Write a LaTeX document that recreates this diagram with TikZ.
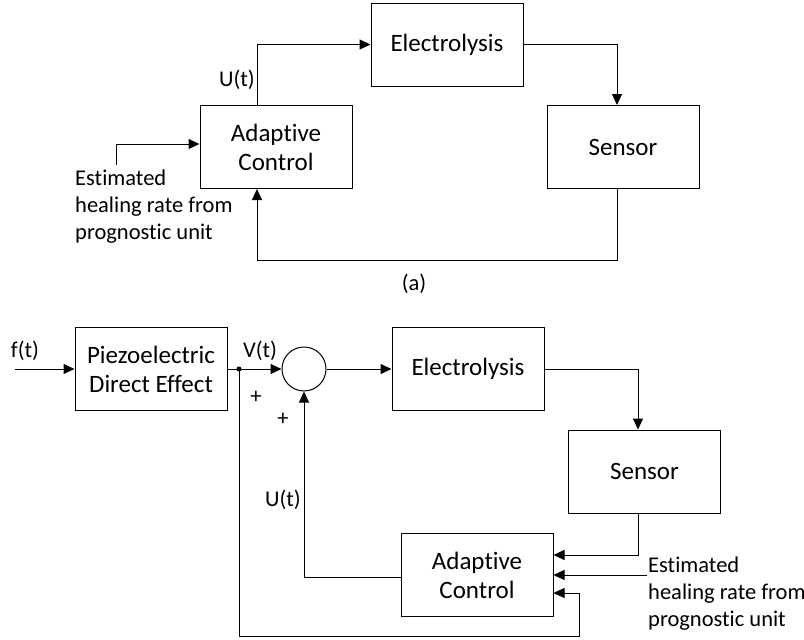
\documentclass[tikz,border=0pt]{standalone}
\usepackage{fontspec}
\setmainfont[Ligatures=NoCommon]{Carlito}
\usetikzlibrary{arrows.meta,calc}
\begin{document}
\begin{tikzpicture}[x=1pt,y=-1pt,
  blk/.style={draw, line width=1pt, minimum width=152pt, minimum height=83pt, inner sep=0pt, align=center, font=\fontsize{25}{29}\selectfont},
  lbl/.style={inner sep=0pt, font=\fontsize{22.5}{27}\selectfont},
  arr/.style={line width=1pt, -{Triangle[length=11pt,width=10pt]}},
  ln/.style={line width=1pt}]
\useasboundingbox (0,0) rectangle (804,640);
% ---- (a) ----
\node[blk] (E1) at (447,44.5) {Electrolysis};
\node[blk] (A1) at (276,147) {Adaptive\\Control};
\node[blk] (S1) at (623,147) {Sensor};
\draw[arr] ([xshift=-19pt]A1.north) |- (E1.west);
\node[lbl, anchor=east] (U1) at (255,80) {U(t)};
\draw[arr] (E1.east) -| ([xshift=-6pt]S1.north);
\draw[arr] ([xshift=-6pt]S1.south) -- ++(0,71) -| ([xshift=-19pt]A1.south);
\coordinate (est1) at (116,165);
\draw[arr] (est1) |- ([yshift=3pt]A1.west);
\node[lbl, anchor=north west, align=left] (T1) at (75,170) {Estimated\\healing rate from\\prognostic unit};
\node[lbl] (a) at (414,284) {(a)};
% ---- (b) ----
\node[blk] (P) at (151,369) {Piezoelectric\\Direct Effect};
\node[blk] (E2) at (468,369) {Electrolysis};
\node[blk] (S2) at (644.5,471.5) {Sensor};
\node[blk] (A2) at (477,575) {Adaptive\\Control};
\node[draw, circle, line width=1pt, minimum size=44pt, inner sep=0pt] (C) at (304,369) {};
\coordinate (ft) at (15,369);
\node[lbl] (f) at (25,351) {f(t)};
\draw[arr] (ft) -- (P.west);
\draw[arr] (P.east) -- (C.west);
\coordinate (dot) at (239,369);
\fill (dot) circle (2.5pt);
\node[lbl] (V) at (260,351) {V(t)};
\draw[arr] (C.east) -- (E2.west);
\draw[arr] (E2.east) -| ([xshift=-6.5pt]S2.north);
\draw[arr] ([xshift=-6.5pt]S2.south) |- ([yshift=20pt]A2.east);
\coordinate (est2) at (647,575);
\draw[arr] (est2) -- (A2.east);
\coordinate (lb) at (239,636);
\coordinate (rb) at (579,636);
\draw[arr] (dot) -- (lb) -- (rb) |- ([yshift=-18pt]A2.east);
\draw[arr] ([yshift=-2pt]A2.west) -| (C.south);
\node[lbl, anchor=east] (U2) at (301,500) {U(t)};
\node[lbl] (p1) at (256,397) {+};
\node[lbl] (p2) at (283,419) {+};
\node[lbl, anchor=north west, align=left] (T2) at (648,557) {Estimated\\healing rate from\\prognostic unit};
\end{tikzpicture}
\end{document}
